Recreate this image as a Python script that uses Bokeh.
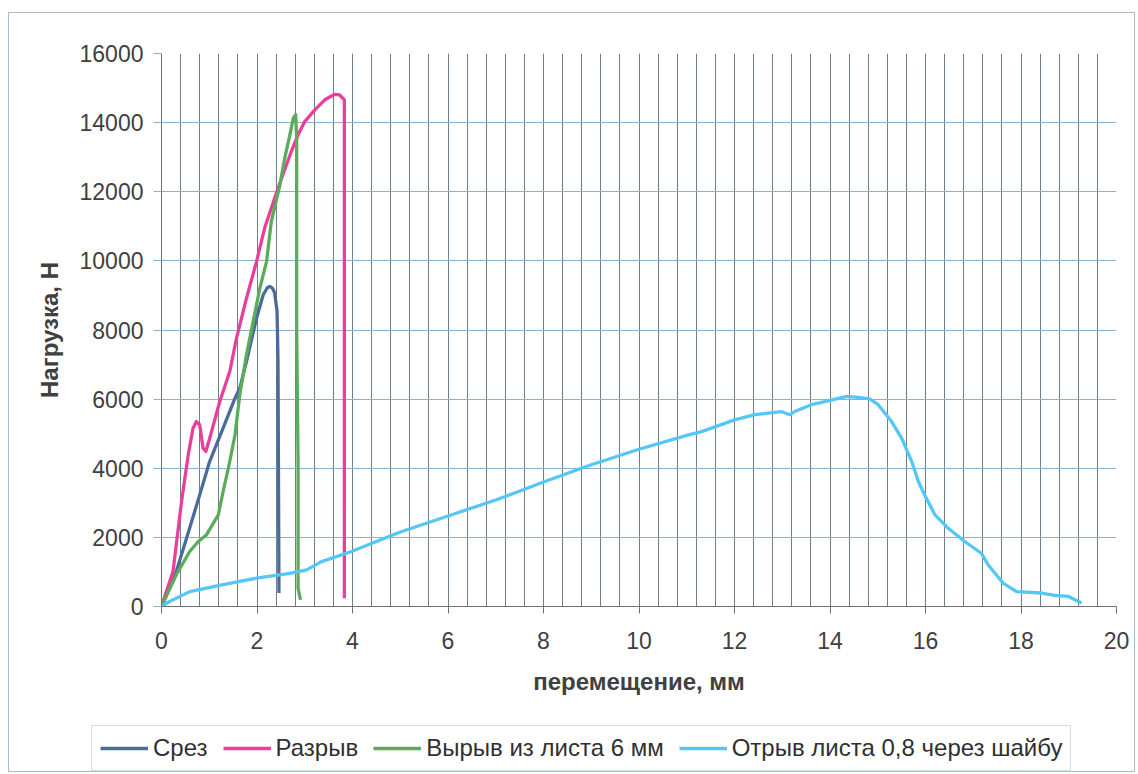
from bokeh.plotting import figure
from bokeh.models import Range1d, SingleIntervalTicker, Legend, LegendItem, NumeralTickFormatter
from bokeh.embed import file_html
from bokeh.resources import INLINE

# ---- data ----
srez_x = [0, 0.31, 0.59, 0.80, 1.01, 1.29, 1.54, 1.64, 1.78, 1.99, 2.13, 2.22, 2.27, 2.33, 2.37, 2.42, 2.44, 2.46]
srez_y = [0, 1010, 2270, 3230, 4200, 5160, 6030, 6320, 7090, 8340, 9020, 9230, 9260, 9200, 9070, 8540, 7100, 390]

razryv_x = [0, 0.24, 0.42, 0.56, 0.66, 0.73, 0.80, 0.87, 0.93, 1.01, 1.22, 1.43, 1.57, 1.78, 1.99, 2.16, 2.44,
            2.72, 2.86, 3.0, 3.21, 3.42, 3.63, 3.73, 3.83, 3.83]
razryv_y = [0, 1010, 3040, 4390, 5160, 5350, 5260, 4580, 4490, 4870, 5930, 6800, 7760, 8920, 9980, 10950, 12100,
            13170, 13650, 14030, 14370, 14660, 14820, 14800, 14660, 240]

vyryv_x = [0, 0.31, 0.59, 0.77, 0.94, 1.19, 1.29, 1.40, 1.54, 1.64, 1.78, 1.92, 2.06, 2.20, 2.30, 2.48, 2.58,
           2.69, 2.76, 2.81, 2.83, 2.83, 2.86, 2.86, 2.91]
vyryv_y = [0, 920, 1590, 1880, 2070, 2650, 3330, 4000, 4970, 6130, 7280, 8250, 9210, 9980, 11140, 12200, 12970,
           13650, 14130, 14230, 13550, 8050, 4200, 530, 190]

otryv_x = [0, 0.17, 0.59, 1.29, 1.99, 2.69, 3.04, 3.35, 3.98, 4.5, 5.03, 6.0, 7.0, 8.0, 9.0, 10.0,
           11.0, 11.31, 12.0, 12.43, 12.98, 13.16, 13.26, 13.61, 13.96, 14.35, 14.59, 14.83, 15.01, 15.29, 15.5,
           15.71, 15.85, 15.98, 16.2, 16.47, 16.82, 17.17, 17.31, 17.63, 17.91, 18.43, 18.71, 18.99, 19.27]
otryv_y = [0, 145, 430, 630, 820, 960, 1060, 1300, 1590, 1880, 2170, 2620, 3080, 3600, 4100, 4550,
           4950, 5060, 5400, 5550, 5640, 5550, 5640, 5840, 5950, 6080, 6050, 6010, 5840, 5350, 4870,
           4200, 3620, 3230, 2650, 2270, 1880, 1540, 1210, 670, 430, 390, 320, 290, 100]

series_names = ["Срез", "Разрыв", "Вырыв из листа 6 мм", "Отрыв листа 0,8 через шайбу"]
series_colors = ["#4a6b9b", "#e8409a", "#5aac5a", "#55c7f7"]

x_title = "перемещение, мм"
y_title = "Нагрузка, Н"

FONT = "Liberation Sans"
BORDER = "1px solid #a8bccb"

p = figure(width=1127, height=712, output_backend="svg", toolbar_location=None,
           x_range=Range1d(0, 20), y_range=Range1d(0, 16000),
           min_border_left=152, min_border_top=40, min_border_right=20, min_border_bottom=119)
p.styles = {"border-left": BORDER, "border-right": BORDER, "border-top": BORDER,
            "margin-left": "8px", "margin-top": "12px"}
p.outline_line_color = None
p.background_fill_color = "white"

renderers = []
for xs, ys, c in zip([srez_x, razryv_x, vyryv_x, otryv_x], [srez_y, razryv_y, vyryv_y, otryv_y], series_colors):
    renderers.append(p.line(xs, ys, line_color=c, line_width=3.3, line_join="round"))

# x axis
p.xaxis.ticker = SingleIntervalTicker(interval=2, num_minor_ticks=5)
p.xaxis.axis_label = x_title
p.xaxis.axis_label_text_font = FONT
p.xaxis.axis_label_text_font_style = "bold"
p.xaxis.axis_label_text_font_size = "24px"
p.xaxis.axis_label_text_color = "#404040"
p.xaxis.axis_label_standoff = 16
p.xaxis.major_label_text_font = FONT
p.xaxis.major_label_text_font_size = "23px"
p.xaxis.major_label_text_color = "#404040"
p.xaxis.major_label_standoff = 18
p.xaxis.axis_line_color = "#707070"
p.xaxis.major_tick_line_color = "#707070"
p.xaxis.major_tick_out = 7
p.xaxis.major_tick_in = 0
p.xaxis.minor_tick_out = 0
p.xaxis.minor_tick_in = 0

# y axis
p.yaxis.ticker = SingleIntervalTicker(interval=2000, num_minor_ticks=0)
p.yaxis.formatter = NumeralTickFormatter(format="0")
p.yaxis.axis_label = y_title
p.yaxis.axis_label_text_font = FONT
p.yaxis.axis_label_text_font_style = "bold"
p.yaxis.axis_label_text_font_size = "24px"
p.yaxis.axis_label_text_color = "#404040"
p.yaxis.axis_label_standoff = 14
p.yaxis.major_label_text_font = FONT
p.yaxis.major_label_text_font_size = "23px"
p.yaxis.major_label_text_color = "#404040"
p.yaxis.major_label_standoff = 10
p.yaxis.axis_line_color = "#707070"
p.yaxis.major_tick_line_color = "#8fb0c8"
p.yaxis.major_tick_out = 8
p.yaxis.major_tick_in = 0
p.yaxis.minor_tick_out = 0

# grids
p.xgrid.grid_line_color = "#6f7f8c"
p.xgrid.grid_line_width = 1
p.xgrid.minor_grid_line_color = "#6f7f8c"
p.xgrid.minor_grid_line_width = 1
p.ygrid.grid_line_color = "#8fb0c8"
p.ygrid.grid_line_width = 1

# legend strip: a second root figure below the chart, showing the same series' lines
lf = figure(width=1127, height=48, output_backend="svg", toolbar_location=None,
            x_range=Range1d(1000, 1001), y_range=Range1d(-1e6, -1e6 + 1),
            x_axis_location=None, y_axis_location=None,
            min_border_left=0, min_border_right=0, min_border_top=0, min_border_bottom=0)
lf.styles = {"border-left": BORDER, "border-right": BORDER, "border-bottom": BORDER,
             "margin-left": "8px"}
lf.outline_line_color = None
lf.grid.visible = False
leg_renderers = []
for xs, ys, c in zip([srez_x, razryv_x, vyryv_x, otryv_x], [srez_y, razryv_y, vyryv_y, otryv_y], series_colors):
    # same series, far outside this strip's visible range: only their legend glyphs show
    leg_renderers.append(lf.line(xs, ys, line_color=c, line_width=3.3))
items = [LegendItem(label=n, renderers=[r]) for n, r in zip(series_names, leg_renderers)]
legend = Legend(items=items, orientation="horizontal", location=(82, 1))
legend.label_text_font = FONT
legend.label_text_font_size = "24px"
legend.label_text_color = "#303030"
legend.glyph_width = 48
legend.label_standoff = 5
legend.spacing = 15
legend.padding = 8
legend.margin = 0
legend.border_line_color = "#a8bccb"
legend.background_fill_alpha = 1
lf.add_layout(legend, "center")

open("out.html", "w").write(file_html([p, lf], INLINE))
